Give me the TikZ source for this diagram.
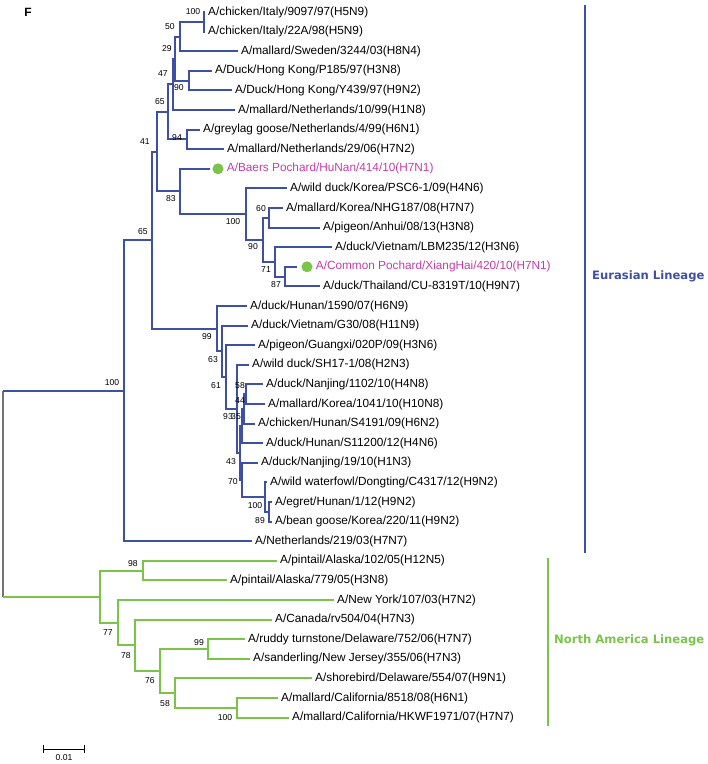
\documentclass[tikz,border=0pt]{standalone}
\usepackage{fontspec}
\setmainfont{Liberation Sans}
\newfontfamily\linfont{DejaVu Sans}
\usetikzlibrary{positioning}
\definecolor{eublue}{RGB}{62,80,165}
\definecolor{nagreen}{RGB}{122,196,74}
\definecolor{pochard}{RGB}{196,60,168}
\definecolor{rootgray}{RGB}{115,115,115}

\begin{document}
\begin{tikzpicture}[x=1pt, y=-1pt, every node/.style={font=\fontsize{11.8}{13}\selectfont}]
\tikzset{
    eu/.style={eublue, line width=2pt},
    na/.style={nagreen, line width=2pt},
    leaf/.style={anchor=west, inner xsep=3pt, inner ysep=1pt},
    boot/.style={font=\fontsize{8.6}{9}\selectfont, inner sep=0pt},
    gdot/.style={circle, fill=nagreen, minimum size=11pt, inner sep=0pt},
    lineage/.style={font=\fontsize{11.6}{13}\linfont\bfseries, anchor=west, inner sep=0pt}
}
\useasboundingbox (0,0) rectangle (708,764);

\node[font=\fontsize{12}{13}\selectfont\bfseries] (F) at (28,12) {F};

% Eurasian leaves
\node[leaf] (l1) at (205,12) {A/chicken/Italy/9097/97(H5N9)};
\node[leaf] (l2) at (205,31.6) {A/chicken/Italy/22A/98(H5N9)};
\node[leaf] (l3) at (238,51.2) {A/mallard/Sweden/3244/03(H8N4)};
\node[leaf] (l4) at (212,70.8) {A/Duck/Hong Kong/P185/97(H3N8)};
\node[leaf] (l5) at (232,90.4) {A/Duck/Hong Kong/Y439/97(H9N2)};
\node[leaf] (l6) at (235,110) {A/mallard/Netherlands/10/99(H1N8)};
\node[leaf] (l7) at (200,129.6) {A/greylag goose/Netherlands/4/99(H6N1)};
\node[leaf] (l8) at (224,149.2) {A/mallard/Netherlands/29/06(H7N2)};
\coordinate (t9) at (210,168.8);
\node[gdot] (d9) at (218,168.8) {};
\node[leaf, text=pochard] (l9) at (d9.east) {A/Baers Pochard/HuNan/414/10(H7N1)};
\node[leaf] (l10) at (287,188.4) {A/wild duck/Korea/PSC6-1/09(H4N6)};
\node[leaf] (l11) at (283,208) {A/mallard/Korea/NHG187/08(H7N7)};
\node[leaf] (l12) at (320,227.6) {A/pigeon/Anhui/08/13(H3N8)};
\node[leaf] (l13) at (332,247.2) {A/duck/Vietnam/LBM235/12(H3N6)};
\coordinate (t14) at (297,266.8);
\node[gdot] (d14) at (307,266.8) {};
\node[leaf, text=pochard] (l14) at (d14.east) {A/Common Pochard/XiangHai/420/10(H7N1)};
\node[leaf] (l15) at (320,286.4) {A/duck/Thailand/CU-8319T/10(H9N7)};
\node[leaf] (l16) at (247,306) {A/duck/Hunan/1590/07(H6N9)};
\node[leaf] (l17) at (248,325.6) {A/duck/Vietnam/G30/08(H11N9)};
\node[leaf] (l18) at (255,345.2) {A/pigeon/Guangxi/020P/09(H3N6)};
\node[leaf] (l19) at (249,364.8) {A/wild duck/SH17-1/08(H2N3)};
\node[leaf] (l20) at (263,384.4) {A/duck/Nanjing/1102/10(H4N8)};
\node[leaf] (l21) at (265,404) {A/mallard/Korea/1041/10(H10N8)};
\node[leaf] (l22) at (255,423.6) {A/chicken/Hunan/S4191/09(H6N2)};
\node[leaf] (l23) at (263,443.2) {A/duck/Hunan/S11200/12(H4N6)};
\node[leaf] (l24) at (258,462.8) {A/duck/Nanjing/19/10(H1N3)};
\node[leaf] (l25) at (267,482.4) {A/wild waterfowl/Dongting/C4317/12(H9N2)};
\node[leaf] (l26) at (272,502) {A/egret/Hunan/1/12(H9N2)};
\node[leaf] (l27) at (272,521.6) {A/bean goose/Korea/220/11(H9N2)};
\node[leaf] (l28) at (252,541.2) {A/Netherlands/219/03(H7N7)};

% North American leaves
\node[leaf] (l29) at (277,560.8) {A/pintail/Alaska/102/05(H12N5)};
\node[leaf] (l30) at (227,580.4) {A/pintail/Alaska/779/05(H3N8)};
\node[leaf] (l31) at (334,600) {A/New York/107/03(H7N2)};
\node[leaf] (l32) at (272,619.6) {A/Canada/rv504/04(H7N3)};
\node[leaf] (l33) at (245,639.2) {A/ruddy turnstone/Delaware/752/06(H7N7)};
\node[leaf] (l34) at (250,658.8) {A/sanderling/New Jersey/355/06(H7N3)};
\node[leaf] (l35) at (312,678.4) {A/shorebird/Delaware/554/07(H9N1)};
\node[leaf] (l36) at (278,698) {A/mallard/California/8518/08(H6N1)};
\node[leaf] (l37) at (289,717.6) {A/mallard/California/HKWF1971/07(H7N7)};

% internal nodes
\coordinate (n100a) at (204,21.8);
\coordinate (n50) at (180,36.5);
\coordinate (n90a) at (189,80.6);
\coordinate (n29) at (175,58.55);
\coordinate (n47) at (173,84.3);
\coordinate (n94) at (187,139.4);
\coordinate (n65a) at (168,111.85);
\coordinate (n87) at (285,276.6);
\coordinate (n71) at (275,261.9);
\coordinate (n60) at (269,217.8);
\coordinate (n90b) at (263,239.85);
\coordinate (n100b) at (246,214.1);
\coordinate (n83) at (180,191.45);
\coordinate (n41) at (157,151.65);
\coordinate (n89) at (269,511.8);
\coordinate (n100c) at (265,497.1);
\coordinate (n70) at (242,479.95);
\coordinate (n58) at (246,394.2);
\coordinate (n44) at (244,408.9);
\coordinate (n35) at (242,426.05);
\coordinate (n43) at (240,453);
\coordinate (n93) at (237,408.9);
\coordinate (n61) at (226,377.05);
\coordinate (n63) at (222,351.3);
\coordinate (n99) at (217,328.65);
\coordinate (n65b) at (152,240.15);
\coordinate (n100e) at (124,390.7);
\coordinate (n98) at (143,570.6);
\coordinate (n99d) at (208,649);
\coordinate (n100d) at (237,707.8);
\coordinate (n58d) at (175,693.1);
\coordinate (n76) at (160,671.05);
\coordinate (n78) at (135,645.3);
\coordinate (n77) at (118,622.65);
\coordinate (nNA) at (100,596.6);
\coordinate (root) at (3,493.65);

% Eurasian branches
\draw[eu] (n100a) |- (l1.west) (n100a) |- (l2.west);
\draw[eu] (n50) |- (n100a) (n50) |- (l3.west);
\draw[eu] (n90a) |- (l4.west) (n90a) |- (l5.west);
\draw[eu] (n29) |- (n50) (n29) |- (n90a);
\draw[eu] (n47) |- (n29) (n47) |- (l6.west);
\draw[eu] (n94) |- (l7.west) (n94) |- (l8.west);
\draw[eu] (n65a) |- (n47) (n65a) |- (n94);
\draw[eu] (n87) |- (t14) (n87) |- (l15.west);
\draw[eu] (n71) |- (l13.west) (n71) |- (n87);
\draw[eu] (n60) |- (l11.west) (n60) |- (l12.west);
\draw[eu] (n90b) |- (n60) (n90b) |- (n71);
\draw[eu] (n100b) |- (l10.west) (n100b) |- (n90b);
\draw[eu] (n83) |- (t9) (n83) |- (n100b);
\draw[eu] (n41) |- (n65a) (n41) |- (n83);
\draw[eu] (n89) |- (l26.west) (n89) |- (l27.west);
\draw[eu] (n100c) |- (l25.west) (n100c) |- (n89);
\draw[eu] (n70) |- (l24.west) (n70) |- (n100c);
\draw[eu] (n58) |- (l20.west) (n58) |- (l21.west);
\draw[eu] (n44) |- (n58) (n44) |- (l22.west);
\draw[eu] (n35) |- (n44) (n35) |- (l23.west);
\draw[eu] (n43) |- (n35) (n43) |- (n70);
\draw[eu] (n93) |- (l19.west) (n93) |- (n43);
\draw[eu] (n61) |- (l18.west) (n61) |- (n93);
\draw[eu] (n63) |- (l17.west) (n63) |- (n61);
\draw[eu] (n99) |- (l16.west) (n99) |- (n63);
\draw[eu] (n65b) |- (n41) (n65b) |- (n99);
\draw[eu] (n100e) |- (n65b) (n100e) |- (l28.west);

% North American branches
\draw[na] (n98) |- (l29.west) (n98) |- (l30.west);
\draw[na] (n99d) |- (l33.west) (n99d) |- (l34.west);
\draw[na] (n100d) |- (l36.west) (n100d) |- (l37.west);
\draw[na] (n58d) |- (l35.west) (n58d) |- (n100d);
\draw[na] (n76) |- (n99d) (n76) |- (n58d);
\draw[na] (n78) |- (l32.west) (n78) |- (n76);
\draw[na] (n77) |- (l31.west) (n77) |- (n78);
\draw[na] (nNA) |- (n98) (nNA) |- (n77);

% root
\draw[rootgray, line width=1.4pt] (root |- n100e) -- (root |- nNA);
\draw[eu] (root |- n100e) -- (n100e);
\draw[na] (root |- nNA) -- (nNA);

% bootstrap values
\node[boot] (b1) at (193,12) {100};
\node[boot] (b2) at (170,27) {50};
\node[boot] (b3) at (167,49) {29};
\node[boot] (b4) at (163,74) {47};
\node[boot] (b5) at (179,88) {90};
\node[boot] (b6) at (160,102) {65};
\node[boot] (b7) at (177,138) {94};
\node[boot] (b8) at (145,142) {41};
\node[boot] (b9) at (171,199) {83};
\node[boot] (b10) at (233,222) {100};
\node[boot] (b11) at (261,209) {60};
\node[boot] (b12) at (253,247) {90};
\node[boot] (b13) at (266,270) {71};
\node[boot] (b14) at (276,285) {87};
\node[boot] (b15) at (143,232) {65};
\node[boot] (b16) at (112,383) {100};
\node[boot] (b17) at (207,337) {99};
\node[boot] (b18) at (213,360) {63};
\node[boot] (b19) at (216,386) {61};
\node[boot] (b20) at (240,386) {58};
\node[boot] (b21) at (240,401) {44};
\node[boot] (b22) at (228,417) {93};
\node[boot] (b23) at (236,417) {35};
\node[boot] (b24) at (231,462) {43};
\node[boot] (b25) at (233,482) {70};
\node[boot] (b26) at (255,506) {100};
\node[boot] (b27) at (260,521) {89};
\node[boot] (b28) at (133,564) {98};
\node[boot] (b29) at (108,633) {77};
\node[boot] (b30) at (126,656) {78};
\node[boot] (b31) at (199,643) {99};
\node[boot] (b32) at (150,681) {76};
\node[boot] (b33) at (165,704) {58};
\node[boot] (b34) at (225,718) {100};

% lineages
\coordinate (eutop) at (585,5);
\coordinate (eubot) at (585,553);
\draw[eu] (eutop) -- (eubot);
\node[lineage, text=eublue] (eulab) at (592,276) {Eurasian Lineage};
\coordinate (natop) at (548,558);
\coordinate (nabot) at (548,726);
\draw[na] (natop) -- (nabot);
\node[lineage, text=nagreen] (nalab) at (554,640) {North America Lineage};

% scale bar
\coordinate (s0) at (43,749);
\coordinate (s1) at (85,749);
\draw[|-|, line width=0.9pt] (s0) -- (s1);
\node[boot] (sl) at (64,758) {0.01};
\end{tikzpicture}
\end{document}
